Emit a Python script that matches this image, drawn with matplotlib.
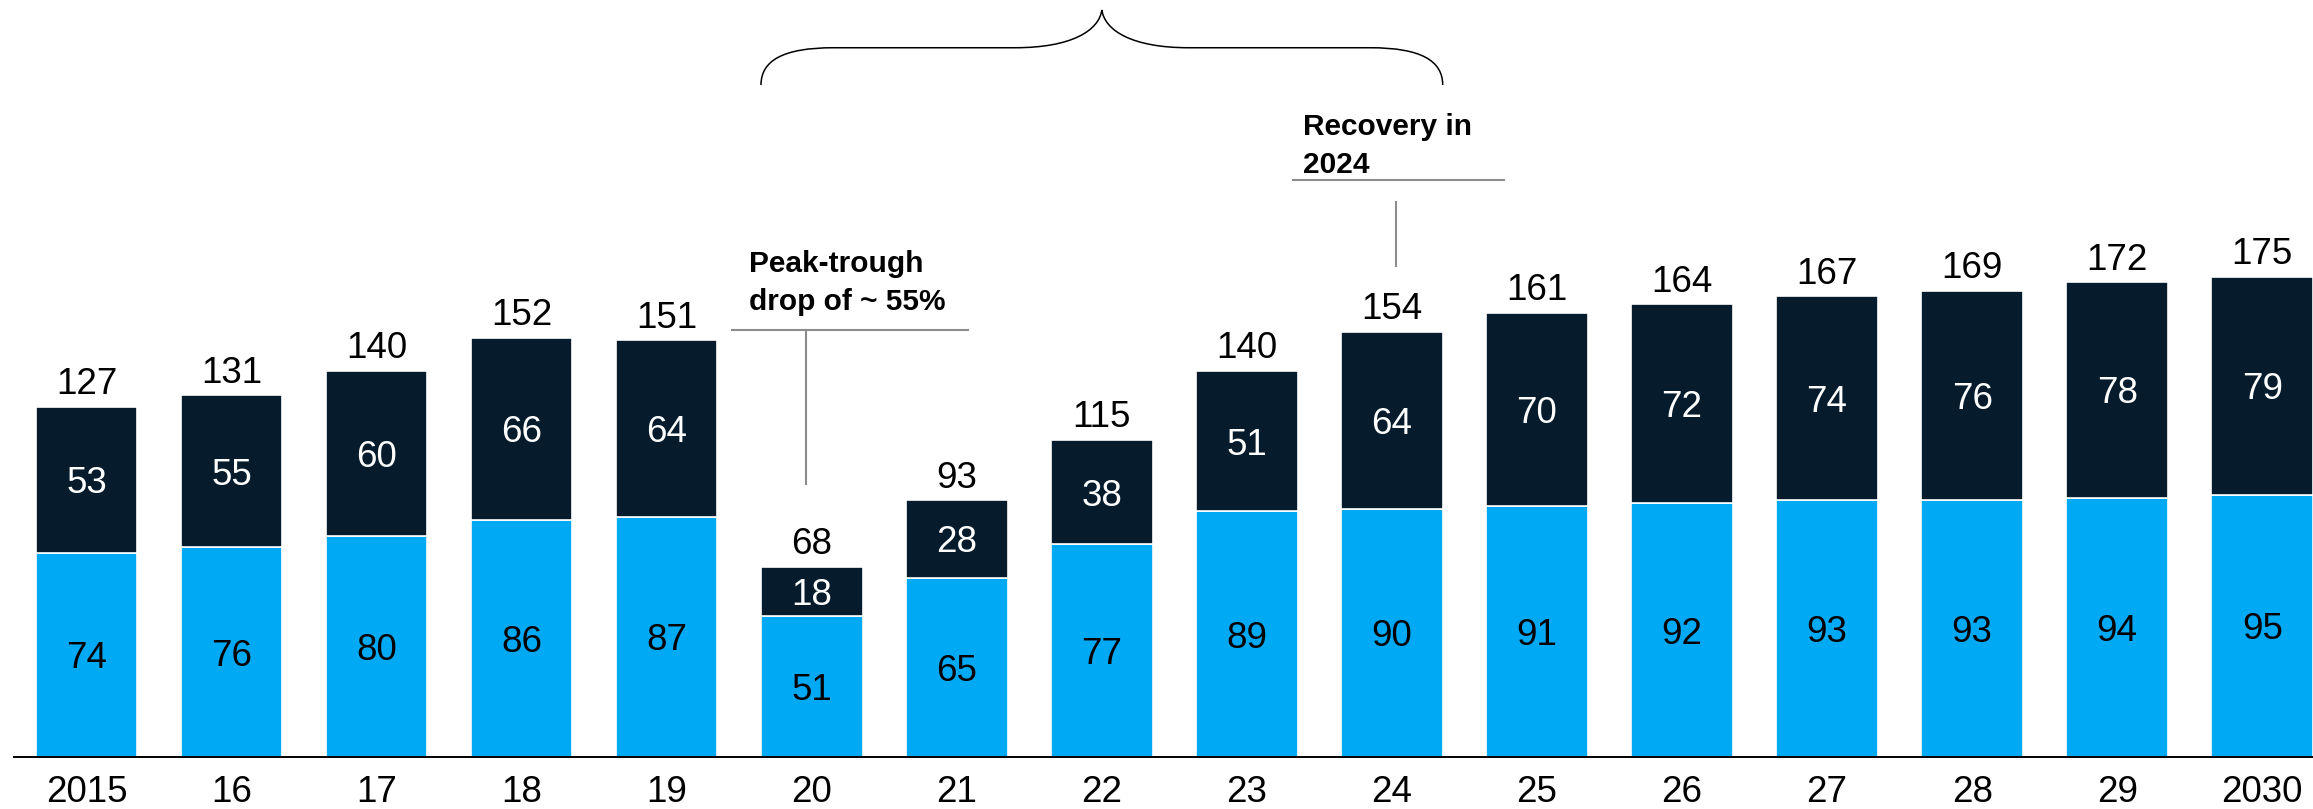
import matplotlib.pyplot as plt
import numpy as np
from matplotlib.path import Path
from matplotlib.patches import PathPatch

plt.rcParams['font.family'] = ['Liberation Sans', 'DejaVu Sans']

# stacked values per year (bottom segment, top segment) and stated totals
years = ["2015", "16", "17", "18", "19", "20", "21", "22",
         "23", "24", "25", "26", "27", "28", "29", "2030"]
lower = [74, 76, 80, 86, 87, 51, 65, 77, 89, 90, 91, 92, 93, 93, 94, 95]
upper = [53, 55, 60, 66, 64, 18, 28, 38, 51, 64, 70, 72, 74, 76, 78, 79]
totals = [127, 131, 140, 152, 151, 68, 93, 115, 140, 154, 161, 164, 167, 169, 172, 175]

drop_year = "20"
recovery_year = "24"

navy = "#061C2C"
blue = "#00A9F4"
grey = "#8C8C8C"
bar_w = 0.7

fig = plt.figure(figsize=(23.13, 8.09), dpi=100)
ax = fig.add_axes([14 / 2313, 52 / 809, 1 - 14 / 2313, 1 - 52 / 809])

x = np.arange(len(years))
lower = np.array(lower)
upper = np.array(upper)

ax.bar(x, lower, bar_w, color=blue, edgecolor="white", linewidth=1.2)
ax.bar(x, upper, bar_w, bottom=lower, color=navy, edgecolor="white", linewidth=1.2)

for i in x:
    ax.text(i, lower[i] / 2, str(lower[i]), ha="center", va="center_baseline",
            fontsize=26.5, color="black")
    ax.text(i, lower[i] + upper[i] / 2, str(upper[i]), ha="center",
            va="center_baseline", fontsize=26.5, color="white")
    ax.annotate(str(totals[i]), (i, lower[i] + upper[i]), xytext=(0, 9),
                textcoords="offset points", ha="center", va="baseline",
                fontsize=26.5, color="black")

ax.set_xlim(-0.5, len(years) - 1 + bar_w / 2)
ax.set_ylim(0, 274.3)
ax.set_xticks(x, years)
ax.tick_params(axis="x", length=0, pad=13, labelsize=26.5)
ax.set_yticks([])
for side in ["left", "right", "top"]:
    ax.spines[side].set_visible(False)
ax.spines["bottom"].set_linewidth(1.4)

# leader for the 2020 trough
d = years.index(drop_year)
ax.plot([d - 0.04, d - 0.04], [totals[d] + 31, 154.7], color=grey, lw=1.5, clip_on=False)
ax.plot([d - 0.55, d + 1.08], [154.7, 154.7], color=grey, lw=1.5, clip_on=False)
ax.text(d - 0.43, 162, "Peak-trough\ndrop of ~ 55%", ha="left", va="baseline",
        fontsize=21.5, fontweight="bold", linespacing=1.45)

# leader for the 2024 recovery
r = years.index(recovery_year)
ax.plot([r + 0.03, r + 0.03], [totals[r] + 24, 201], color=grey, lw=1.5, clip_on=False)
ax.plot([r - 0.68, r + 0.77], [209, 209], color=grey, lw=1.5, clip_on=False)
ax.text(r - 0.61, 211.5, "Recovery in\n2024", ha="left", va="baseline",
        fontsize=21.5, fontweight="bold", linespacing=1.45)


# curly brace over the dip-and-recovery years
def brace(x0, x1, y0, y1, y2, end_w=0.5, tip_w=0.6):
    xm = (x0 + x1) / 2
    verts = [
        (x0, y0), (x0, y0 + 0.65 * (y1 - y0)), (x0 + 0.15, y1), (x0 + end_w, y1),
        (xm - tip_w, y1),
        (xm - tip_w * 0.35, y1), (xm - 0.02, y1 + 0.45 * (y2 - y1)), (xm, y2),
        (xm + 0.02, y1 + 0.45 * (y2 - y1)), (xm + tip_w * 0.35, y1), (xm + tip_w, y1),
        (x1 - end_w, y1),
        (x1 - 0.15, y1), (x1, y0 + 0.65 * (y1 - y0)), (x1, y0),
    ]
    codes = ([Path.MOVETO] + [Path.CURVE4] * 3 + [Path.LINETO] + [Path.CURVE4] * 6
             + [Path.LINETO] + [Path.CURVE4] * 3)
    return Path(verts, codes)


ax.add_patch(PathPatch(brace(d - bar_w / 2, r + bar_w / 2, 243.5, 257, 270.7),
                       facecolor="none", edgecolor="black", lw=1.1, clip_on=False))

fig.savefig("out.png", dpi=100)
